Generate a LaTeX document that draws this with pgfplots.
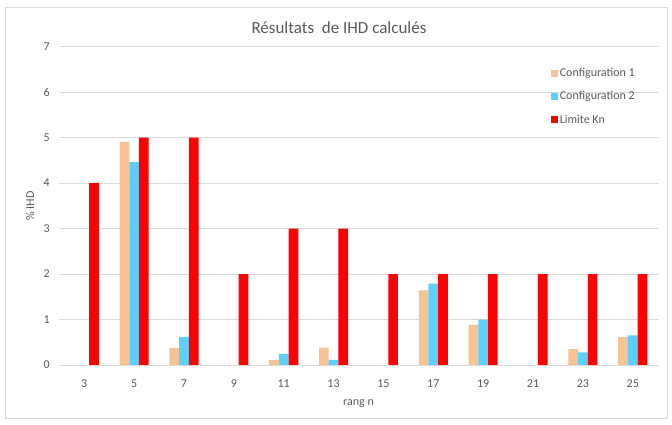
\documentclass[border=0pt]{standalone}
\usepackage{pgfplots}
\pgfplotsset{compat=1.18}
\usepackage{fontspec}
\setmainfont{Carlito}
\definecolor{cfgA}{RGB}{248,195,146}
\definecolor{cfgB}{RGB}{91,208,255}
\definecolor{txt}{RGB}{89,89,89}
\definecolor{grd}{RGB}{217,217,217}
\begin{document}
\begin{tikzpicture}[x=1pt,y=1pt]
\path[use as bounding box] (0,0) rectangle (672,425);
\draw[grd, line width=0.8pt] (5.5,7) rectangle (667,418);
\node[txt, font=\fontsize{17}{20}\selectfont] at (339,397) {Résultats\ \ de IHD calculés};
\begin{axis}[
  at={(59.3pt,60pt)}, anchor=south west,
  scale only axis, width=598.4pt, height=318.3pt,
  xmin=-0.5, xmax=11.5, ymin=0, ymax=7,
  ytick={0,1,2,3,4,5,6,7},
  xtick={0,1,2,3,4,5,6,7,8,9,10,11},
  xticklabels={3,5,7,9,11,13,15,17,19,21,23,25},
  ymajorgrids, grid style={grd, line width=0.8pt},
  axis x line*=bottom, axis y line*=left,
  x axis line style={grd, line width=0.8pt, -},
  y axis line style={draw=none},
  tick style={draw=none},
  /pgf/number format/assume math mode=true,
  ticklabel style={txt, font=\fontsize{12}{14}\selectfont},
  yticklabel style={xshift=-6pt},
  xticklabel style={yshift=-7pt},
  xlabel={rang n}, ylabel={\% IHD},
  label style={txt, font=\fontsize{12}{14}\selectfont},
  xlabel style={at={(axis description cs:0.5,-0.12)}, anchor=center},
  ylabel style={at={(axis description cs:-0.049,0.5)}, anchor=center, rotate=0},
  ybar=0pt, bar width=9.7pt,
  legend style={at={(0.816,0.945)}, anchor=north west, draw=none, fill=none,
    font=\fontsize{12}{14}\selectfont, text=txt, row sep=9.5pt,
    /tikz/every even column/.append style={column sep=3pt}},
  legend cell align=left,
  legend image code/.code={\path[#1,draw=none] (0pt,-3.5pt) rectangle (7pt,3.5pt);},
]
\addplot[fill=cfgA, draw=none] coordinates {(1,4.90) (2,0.37) (4,0.11) (5,0.38) (7,1.64) (8,0.88) (10,0.35) (11,0.62)};
\addplot[fill=cfgB, draw=none] coordinates {(1,4.46) (2,0.62) (4,0.24) (5,0.11) (7,1.79) (8,1.00) (10,0.28) (11,0.65)};
\addplot[fill=red, draw=none] coordinates {(0,4) (1,5) (2,5) (3,2) (4,3) (5,3) (6,2) (7,2) (8,2) (9,2) (10,2) (11,2)};
\legend{Configuration 1, Configuration 2, Limite Kn}
\end{axis}
\end{tikzpicture}
\end{document}
